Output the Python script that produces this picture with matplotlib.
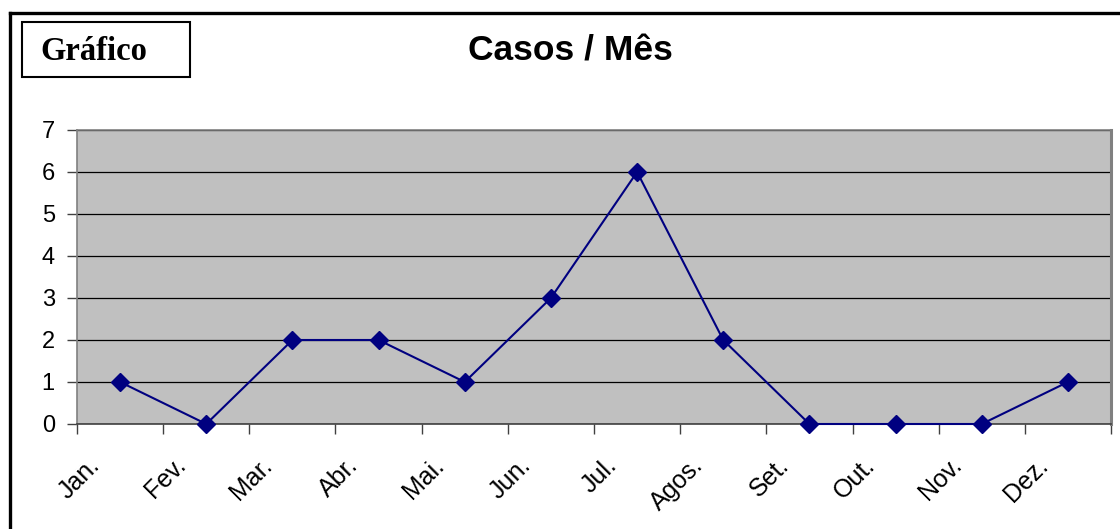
import numpy as np
import matplotlib
matplotlib.use("Agg")
import matplotlib.pyplot as plt
from matplotlib.patches import Rectangle
from matplotlib.lines import Line2D
from matplotlib.transforms import ScaledTranslation

meses = ["Jan.", "Fev.", "Mar.", "Abr.", "Mai.", "Jun.", "Jul.", "Agos.", "Set.", "Out.", "Nov.", "Dez."]
casos = [1, 0, 2, 2, 1, 3, 6, 2, 0, 0, 0, 1]
yticks = [0, 1, 2, 3, 4, 5, 6, 7]

W, H = 1120, 529
fig = plt.figure(figsize=(W / 100, H / 100), dpi=100)
fig.patch.set_facecolor("white")

# outer frame (only top and left visible in the original)
fig.add_artist(Line2D([10 / W, 10 / W], [0, 1 - 13 / H], color="black", lw=2.4))
fig.add_artist(Line2D([10 / W, 1], [1 - 13 / H, 1 - 13 / H], color="black", lw=2.4))

# "Gráfico" box
fig.add_artist(Rectangle((22 / W, 1 - 77 / H), 168 / W, 55 / H, fill=False,
                         edgecolor="black", lw=1.5, transform=fig.transFigure))
fig.text(94 / W, 1 - 52 / H, "Gráfico", family="Liberation Serif", weight="bold",
         fontsize=23.5, ha="center", va="center")

fig.text(570 / W, 1 - 51 / H, "Casos / Mês", family="Liberation Sans", weight="bold",
         fontsize=25.5, ha="center", va="center")

ax = fig.add_axes([77 / W, 1 - 424 / H, (1111 - 77) / W, (424 - 130) / H])
ax.set_facecolor("#C0C0C0")

x = np.arange(len(meses))
ax.plot(x, casos, color="#000080", lw=1.5, marker="D", markersize=9.5, zorder=3, clip_on=False)

ax.set_xlim(-0.5, len(meses) - 0.5)
ax.set_ylim(0, 7)
ax.set_yticks(yticks)
ax.yaxis.grid(True, color="black", lw=0.9)
ax.set_axisbelow(True)

ax.set_xticks(x)
ax.set_xticklabels(meses, rotation=45, ha="right", va="center", rotation_mode="anchor")
ax.set_xticks(np.arange(len(meses) + 1) - 0.5, minor=True)
ax.tick_params(axis="x", which="major", length=0, pad=27, labelsize=18)
ax.tick_params(axis="x", which="minor", length=7, width=1, color="#404040")
ax.tick_params(axis="y", length=7, width=1, color="#404040", labelsize=17, pad=9)
for lbl in ax.get_xticklabels():
    lbl.set_family("Liberation Sans")
    lbl.set_transform(lbl.get_transform() + ScaledTranslation(-0.24, 0, fig.dpi_scale_trans))
for lbl in ax.get_yticklabels():
    lbl.set_family("Liberation Sans")

for s in ["left", "top"]:
    ax.spines[s].set_color("#808080")
    ax.spines[s].set_linewidth(1.2)
ax.spines["bottom"].set_color("#404040")
ax.spines["bottom"].set_linewidth(1.2)
ax.spines["right"].set_color("#808080")
ax.spines["right"].set_linewidth(2.2)

fig.savefig("out.png", dpi=100)
